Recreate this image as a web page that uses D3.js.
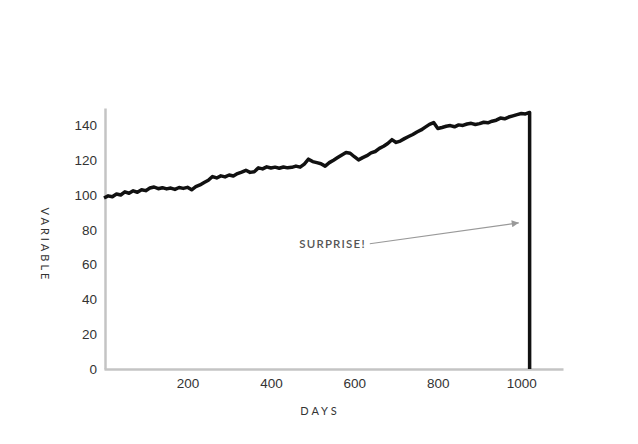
<!DOCTYPE html>
<html>
<head>
<meta charset="utf-8">
<script src="https://cdn.jsdelivr.net/npm/d3@7"></script>
<style>
  body { margin: 0; background: #fff; }
  svg { display: block; font-family: Lato, "Open Sans", sans-serif; }
</style>
</head>
<body>
<svg id="chart" width="638" height="444"></svg>
<script>
// values, every 10 days
const days = d3.range(0, 1021, 10);
const values = [
  98.3, 99.5, 99.0, 100.6, 100.0, 101.8, 101.0, 102.4, 101.6, 103.0,
  102.5, 104.0, 104.6, 103.6, 104.2, 103.5, 104.0, 103.2, 104.3, 103.8,
  104.4, 103.0, 104.8, 105.8, 107.2, 108.5, 110.6, 109.8, 111.0, 110.4,
  111.5, 110.9, 112.3, 113.2, 114.2, 113.0, 113.4, 115.6, 115.0, 116.2,
  115.5, 116.0, 115.4, 116.1, 115.6, 115.9, 116.6, 116.0, 117.8, 120.6,
  119.2, 118.6, 118.0, 116.6, 118.6, 120.0, 121.5, 123.0, 124.4, 124.0,
  122.0, 120.2, 121.5, 122.6, 124.2, 125.0, 126.8, 128.0, 129.6, 131.8,
  130.2, 131.0, 132.4, 133.6, 134.8, 136.2, 137.4, 139.0, 140.6, 141.6,
  138.2, 138.8, 139.5, 139.9, 139.2, 140.3, 140.0, 140.8, 141.2, 140.5,
  141.0, 141.8, 141.5, 142.4, 143.0, 144.2, 143.8, 144.8, 145.5, 146.2,
  146.8, 146.6, 147.4
];
const crashDay = 1020;
const yTicks = [0, 20, 40, 60, 80, 100, 120, 140];
const xTicks = [200, 400, 600, 800, 1000];
const note = { text: "SURPRISE!", from: [637, 72], to: [994, 84] };

const svg = d3.select("#chart");
const x = d3.scaleLinear().domain([0, 1100]).range([104, 563]);
const y = d3.scaleLinear().domain([0, 150]).range([369, 108]);

const axisColor = "#c4c4c4";

// axes
const yAxis = svg.append("g").attr("transform", `translate(${x(0) + 1},0)`)
  .call(d3.axisLeft(y).tickValues(yTicks).tickSize(0).tickPadding(8));
const xAxis = svg.append("g").attr("transform", `translate(0,${y(0)})`)
  .call(d3.axisBottom(x).tickValues(xTicks).tickSize(0).tickPadding(9).tickFormat(d3.format("d")));

[yAxis, xAxis].forEach((a) => {
  a.select(".domain").attr("stroke", axisColor).attr("stroke-width", 2.5);
  a.selectAll("text").attr("fill", "#333").attr("font-size", 13.5);
});

// series
const data = days.map((d, i) => ({ day: d, value: values[i] }));
data.push({ day: crashDay, value: 0 });

const line = d3.line().x((d) => x(d.day)).y((d) => y(d.value));

svg.append("path")
  .datum(data)
  .attr("fill", "none")
  .attr("stroke", "#111")
  .attr("stroke-width", 3.5)
  .attr("stroke-linejoin", "round")
  .attr("d", line);

// annotation
svg.append("defs").append("marker")
  .attr("id", "head")
  .attr("viewBox", "0 0 10 10")
  .attr("refX", 10).attr("refY", 5)
  .attr("markerWidth", 17).attr("markerHeight", 7)
  .attr("markerUnits", "userSpaceOnUse")
  .attr("orient", "auto")
  .append("path").attr("d", "M0,0L10,5L0,10Z").attr("fill", "#999");

svg.append("line")
  .attr("x1", x(note.from[0])).attr("y1", y(note.from[1]))
  .attr("x2", x(note.to[0])).attr("y2", y(note.to[1]))
  .attr("stroke", "#999").attr("stroke-width", 1.2)
  .attr("marker-end", "url(#head)");

svg.append("text")
  .attr("x", x(note.from[0]) - 4).attr("y", y(note.from[1]) + 4)
  .attr("text-anchor", "end")
  .attr("font-size", 11.5).attr("letter-spacing", 1.2)
  .attr("font-weight", 600)
  .attr("fill", "#555")
  .text(note.text);

// axis titles
svg.append("text")
  .attr("transform", "translate(41,245) rotate(90)")
  .attr("text-anchor", "middle")
  .attr("font-size", 11).attr("letter-spacing", 3)
  .attr("fill", "#333")
  .text("VARIABLE");

svg.append("text")
  .attr("x", 320).attr("y", 415)
  .attr("text-anchor", "middle")
  .attr("font-size", 11).attr("letter-spacing", 3)
  .attr("fill", "#333")
  .text("DAYS");
</script>
</body>
</html>
